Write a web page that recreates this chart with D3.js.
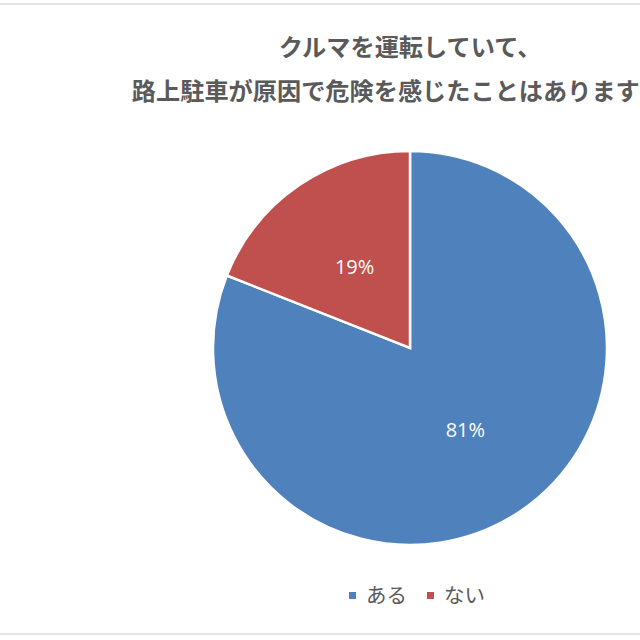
<!DOCTYPE html>
<html><head><meta charset="utf-8">
<script src="https://cdn.jsdelivr.net/npm/d3@7"></script>
<style>html,body{margin:0;padding:0;background:#fff;}</style>
</head><body>
<svg id="c" width="640" height="640"></svg>
<script>
const categories = ["ある", "ない"];
const values = [81, 19];
const titleLines = ["クルマを運転していて、", "路上駐車が原因で危険を感じたことはありますか？"];
const colors = ["#4F81BD", "#C0504D"];

const svg = d3.select("#c");
svg.append("rect").attr("x",0).attr("y",0).attr("width",640).attr("height",640).attr("fill","#fff");
svg.append("line").attr("x1",0).attr("x2",640).attr("y1",4).attr("y2",4).attr("stroke","#e3e3e3").attr("stroke-width",2);
svg.append("line").attr("x1",0).attr("x2",640).attr("y1",634).attr("y2",634).attr("stroke","#e3e3e3").attr("stroke-width",2);

const cx = 410, cy = 348, r = 197;
svg.selectAll("text.title").data(titleLines).join("text")
  .attr("class","title")
  .attr("x", cx).attr("y", (d,i)=> 56 + i*44)
  .attr("text-anchor","middle")
  .attr("font-family","'Noto Sans CJK JP', sans-serif")
  .attr("font-weight","bold")
  .attr("font-size", 24.2)
  .attr("fill","#5a5a5a")
  .text(d=>d);

const color = d3.scaleOrdinal().domain(categories).range(colors);
const pie = d3.pie().sort(null).value(d=>d.v);
const data = pie(categories.map((c,i)=>({c, v: values[i]})));
const arc = d3.arc().innerRadius(0).outerRadius(r);
const g = svg.append("g").attr("transform",`translate(${cx},${cy})`);
g.selectAll("path").data(data).join("path")
  .attr("d", arc).attr("fill", d=>color(d.data.c))
  .attr("stroke","#fff").attr("stroke-width",2.5);
g.selectAll("text").data(data).join("text")
  .attr("transform", d=>`translate(${arc.centroid(d)})`)
  .attr("text-anchor","middle").attr("dy","0.36em")
  .attr("font-family","'Open Sans', 'Liberation Sans', sans-serif")
  .attr("font-size", 20)
  .attr("fill","#fff")
  .text(d=>d.data.v + "%");

const legendX = d3.scalePoint().domain(categories).range([349, 427]);
const lg = svg.append("g");
lg.selectAll("rect").data(categories).join("rect")
  .attr("x", d=>legendX(d)).attr("y", 592).attr("width",7).attr("height",7)
  .attr("fill", d=>color(d));
lg.selectAll("text").data(categories).join("text")
  .attr("x", d=>legendX(d)+17).attr("y", 603)
  .attr("font-family","'Noto Sans CJK JP', sans-serif")
  .attr("font-size", 20.5)
  .attr("fill","#595959")
  .text(d=>d);
</script>
</body></html>
